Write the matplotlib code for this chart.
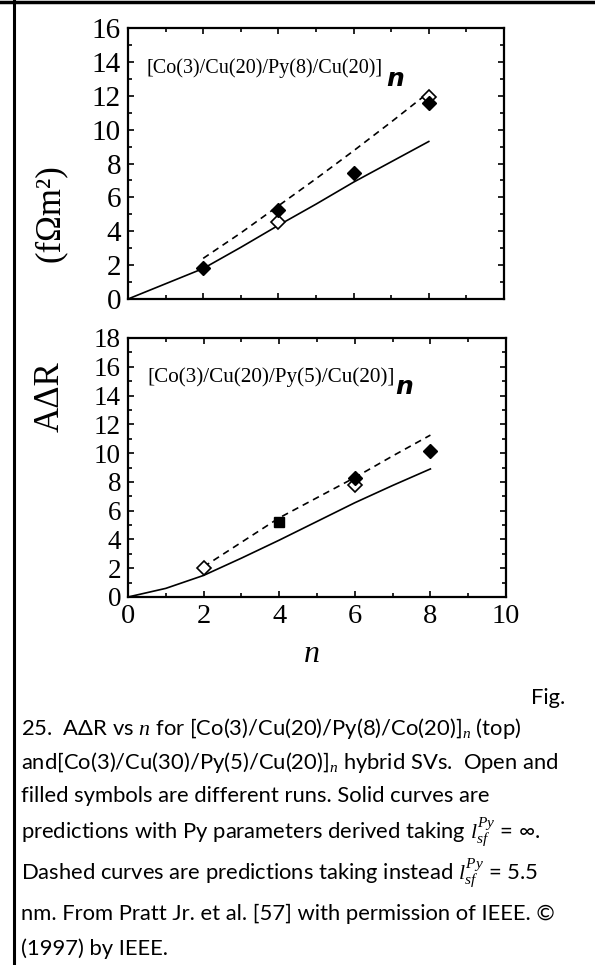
import matplotlib
matplotlib.use("Agg")
import matplotlib.pyplot as plt
from matplotlib.lines import Line2D
from matplotlib.ticker import MultipleLocator

plt.rcParams["mathtext.fontset"] = "custom"
plt.rcParams["mathtext.rm"] = "Lato"
plt.rcParams["mathtext.it"] = "Liberation Serif:italic"
plt.rcParams["mathtext.fallback"] = "stixsans"

# top panel: [Co(3)/Cu(20)/Py(8)/Cu(20)]n
n_curve = [0, 1, 2, 3, 4, 5, 6, 7, 8]
top_solid = [0, 0.9, 1.8, 3.05, 4.35, 5.6, 6.9, 8.1, 9.3]
n_dash = [2, 3, 4, 5, 6, 7, 8]
top_dash = [2.4, 3.9, 5.5, 7.1, 8.75, 10.45, 12.2]
top_filled_n = [2, 4, 6, 8]
top_filled = [1.83, 5.25, 7.45, 11.55]
top_open_n = [4, 8]
top_open = [4.55, 11.9]

# bottom panel: [Co(3)/Cu(20)/Py(5)/Cu(20)]n
bot_solid = [0, 0.6, 1.5, 2.7, 3.95, 5.25, 6.55, 7.75, 8.9]
bot_dash = [2.1, 3.8, 5.5, 6.9, 8.3, 9.8, 11.25]
bot_filled_n = [6, 8]
bot_filled = [8.25, 10.15]
bot_square_n = [4]
bot_square = [5.2]
bot_open_n = [2, 6]
bot_open = [2.0, 7.8]

caption = [
    "25.  AΔR vs $n$ for [Co(3)/Cu(20)/Py(8)/Co(20)]$_n$ (top)",
    "and[Co(3)/Cu(30)/Py(5)/Cu(20)]$_n$ hybrid SVs.  Open and",
    "filled symbols are different runs. Solid curves are",
    "predictions with Py parameters derived taking $l_{sf}^{Py}$ = ∞.",
    "Dashed curves are predictions taking instead $l_{sf}^{Py}$ = 5.5",
    "nm. From Pratt Jr. et al. [57] with permission of IEEE. ©",
    "(1997) by IEEE.",
]
caption_base = [735, 769, 802, 839, 880, 920, 955]

W, H = 595, 965
fig = plt.figure(figsize=(W / 100, H / 100), dpi=100)

ax1 = fig.add_axes([128 / W, 1 - 299 / H, 376 / W, 271 / H])
ax2 = fig.add_axes([128 / W, 1 - 597 / H, 378 / W, 259 / H])

serif = "Liberation Serif"


def style(ax, ymax, ystep, lab_size, show_x):
    ax.set_xlim(0, 10)
    ax.set_ylim(0, ymax)
    ax.xaxis.set_major_locator(MultipleLocator(2))
    ax.xaxis.set_minor_locator(MultipleLocator(1))
    ax.yaxis.set_major_locator(MultipleLocator(ystep))
    ax.yaxis.set_minor_locator(MultipleLocator(1))
    ax.tick_params(which="both", direction="in", top=True, right=True,
                   width=1.2)
    ax.tick_params(which="major", length=4.5, pad=5)
    ax.tick_params(which="minor", length=3)
    ax.tick_params(axis="y", labelsize=lab_size)
    ax.tick_params(axis="x", labelsize=20.5, labelbottom=show_x)
    for lbl in ax.get_xticklabels() + ax.get_yticklabels():
        lbl.set_fontfamily(serif)
    for sp in ax.spines.values():
        sp.set_linewidth(1.6)


def draw(ax, solid, dash):
    ax.plot(n_curve, solid, color="black", lw=1.2)
    ax.plot(n_dash, dash, color="black", lw=1.2, dashes=(4, 3))


draw(ax1, top_solid, top_dash)
ax1.plot(top_open_n, top_open, "D", ms=7, mfc="white", mec="black", mew=1.2)
ax1.plot(top_filled_n, top_filled, "D", ms=7, color="black")
style(ax1, 16, 2, 21, False)

draw(ax2, bot_solid, bot_dash)
ax2.plot(bot_open_n, bot_open, "D", ms=7, mfc="white", mec="black", mew=1.2)
ax2.plot(bot_filled_n, bot_filled, "D", ms=7, color="black")
ax2.plot(bot_square_n, bot_square, "s", ms=7.5, color="black")
style(ax2, 18, 2, 19.5, True)

ax1.text(0.05, 0.852, "[Co(3)/Cu(20)/Py(8)/Cu(20)]", transform=ax1.transAxes,
         family=serif, fontsize=14.5, va="center")
ax1.text(0.688, 0.81, "n", transform=ax1.transAxes, family="DejaVu Sans",
         fontsize=18, weight="bold", style="italic", va="center")
ax2.text(0.05, 0.849, "[Co(3)/Cu(20)/Py(5)/Cu(20)]", transform=ax2.transAxes,
         family=serif, fontsize=15.2, va="center")
ax2.text(0.706, 0.81, "n", transform=ax2.transAxes, family="DejaVu Sans",
         fontsize=18, weight="bold", style="italic", va="center")

fig.text(50 / W, 1 - 213 / H, "(fΩm²)", rotation=90, family=serif,
         fontsize=25, ha="center", va="center")
fig.text(50 / W, 1 - 397 / H, "AΔR", rotation=90, family=serif,
         fontsize=25, ha="center", va="center")
fig.text(312 / W, 1 - 655 / H, "n", family=serif, style="italic",
         fontsize=23, ha="center", va="center")

fig.text(565 / W, 1 - 704 / H, "Fig.", family=["Lato", "DejaVu Sans"],
         fontsize=15.8, ha="right", va="baseline")
for line, yb in zip(caption, caption_base):
    fig.text(21 / W, 1 - yb / H, line, family=["Lato", "DejaVu Sans"],
             fontsize=15.8, ha="left", va="baseline")

# frame lines at top and left
fig.add_artist(Line2D([0, 1], [1 - 1.5 / H] * 2, transform=fig.transFigure,
                      color="black", lw=2.5))
fig.add_artist(Line2D([13.5 / W] * 2, [0, 1], transform=fig.transFigure,
                      color="black", lw=2.2))

fig.savefig("out.png", dpi=100)
